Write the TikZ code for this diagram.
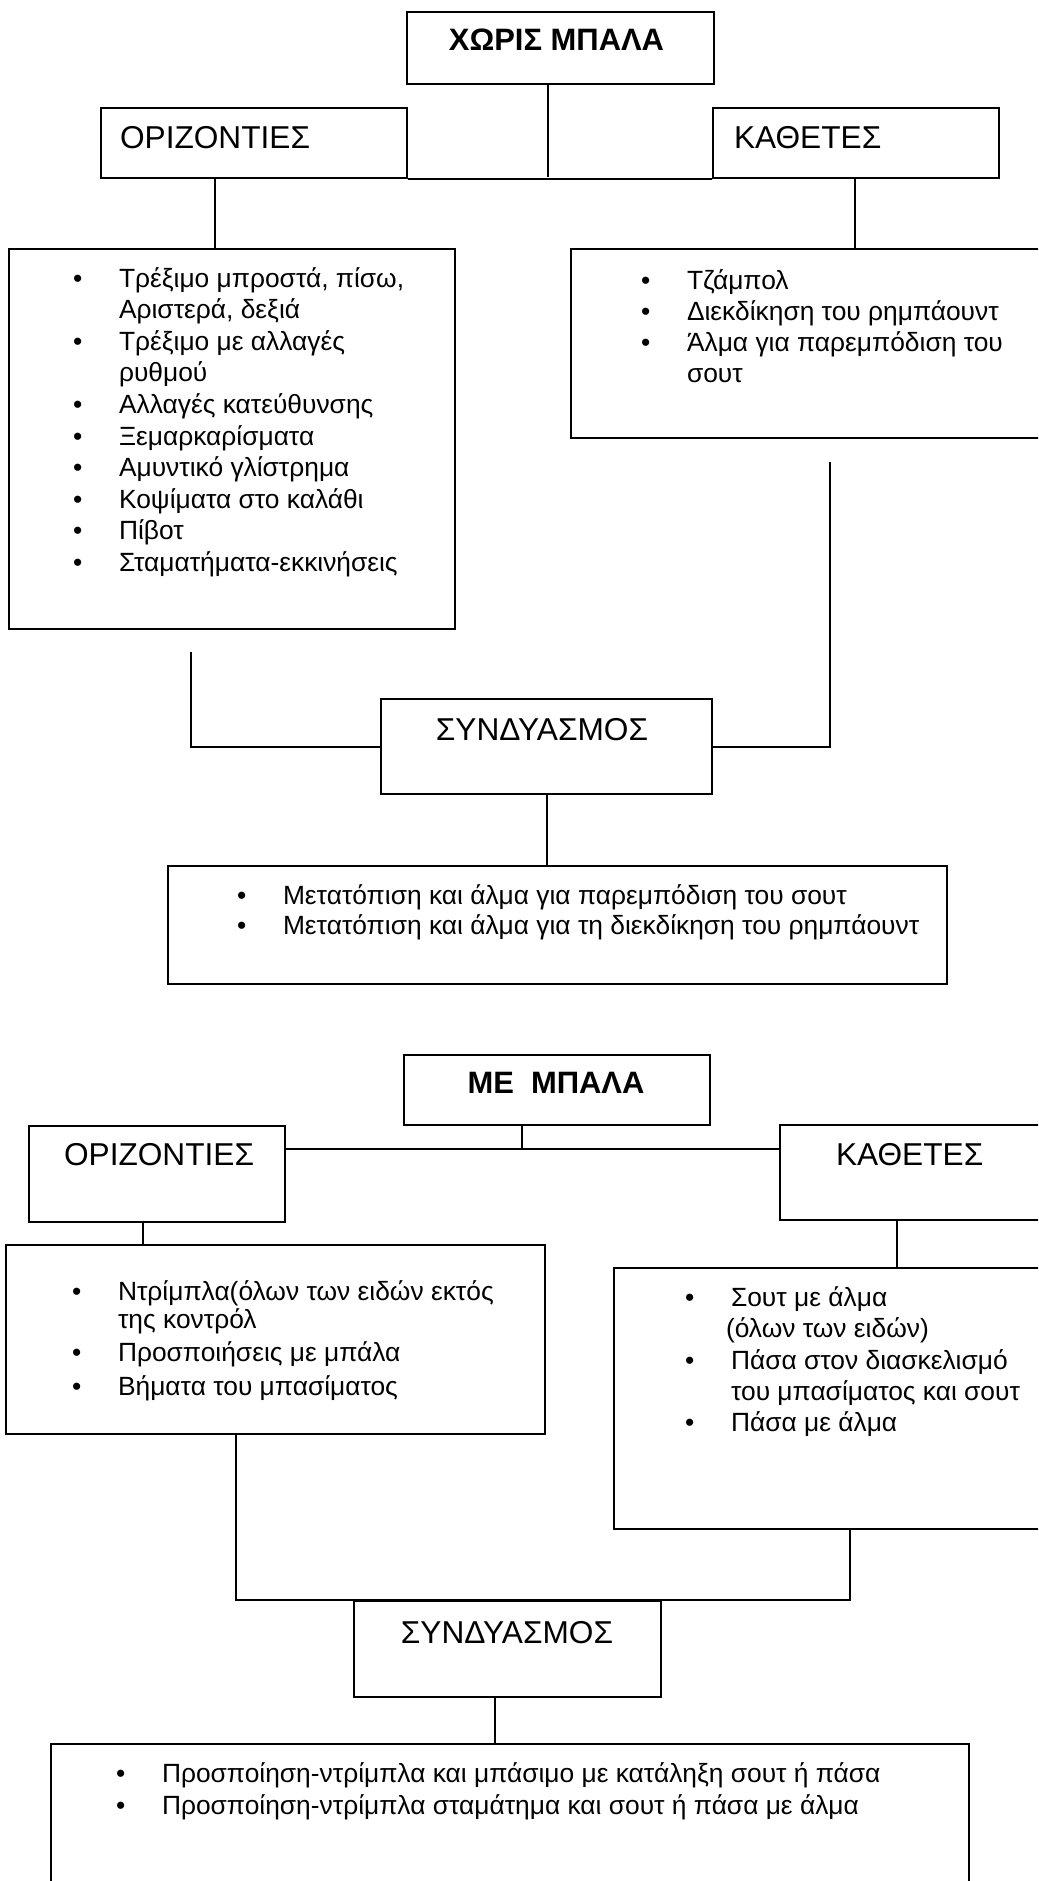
\documentclass[tikz,border=0pt]{standalone}
\usepackage{fontspec}
\setmainfont{Liberation Sans}
\newcommand{\bulletmark}{\llap{\makebox[4.6mm][l]{•}}}
\tikzset{
  box/.style={draw, anchor=north west, inner sep=0pt},
  head/.style={font=\fontsize{9}{11}\selectfont, inner sep=0pt, anchor=west},
  title/.style={font=\fontsize{8.8}{11}\selectfont\bfseries, inner sep=0pt},
  item/.style={font=\fontsize{7.5}{9}\selectfont, inner sep=0pt, anchor=mid west},
}
\begin{document}
\begin{tikzpicture}[line width=0.6pt]
        \useasboundingbox (0,0) rectangle (10.38,-18.81);
        \clip (0,0) rectangle (10.38,-18.81);
        %Χωρίς μπάλα
        \node[box, minimum width=3.07cm, minimum height=0.72cm] (t1) at (4.06,-0.11) {};
        \node[title] (t1txt) at (5.565,-0.40) {ΧΩΡΙΣ ΜΠΑΛΑ};
        \node[box, minimum width=3.06cm, minimum height=0.70cm] (o1) at (1.00,-1.07) {};
        \node[head] (o1txt) at (1.19,-1.38) {ΟΡΙΖΟΝΤΙΕΣ};
        \node[box, minimum width=2.86cm, minimum height=0.70cm] (k1) at (7.12,-1.07) {};
        \node[head] (k1txt) at (7.33,-1.38) {ΚΑΘΕΤΕΣ};
        \coordinate (h1) at (5.48,-1.77);
        \draw (h1 |- t1.south) -- (h1);
        \draw (o1.south east) -- (k1.south west);
        %Λίστες
        \node[box, minimum width=4.46cm, minimum height=3.80cm] (l1) at (0.08,-2.48) {};
        \node[box, minimum width=4.80cm, minimum height=1.89cm] (r1) at (5.70,-2.48) {};
        \draw (2.15,0 |- o1.south) -- (2.15,0 |- l1.north);
        \draw (8.55,0 |- k1.south) -- (8.55,0 |- r1.north);
        \node[item] (l1a) at (1.18,-2.78) {\bulletmark Τρέξιμο μπροστά, πίσω,};
        \node[item] (l1b) at (1.18,-3.09) {Αριστερά, δεξιά};
        \node[item] (l1c) at (1.18,-3.41) {\bulletmark Τρέξιμο με αλλαγές};
        \node[item] (l1d) at (1.18,-3.72) {ρυθμού};
        \node[item] (l1e) at (1.18,-4.04) {\bulletmark Αλλαγές κατεύθυνσης};
        \node[item] (l1f) at (1.18,-4.36) {\bulletmark Ξεμαρκαρίσματα};
        \node[item] (l1g) at (1.18,-4.67) {\bulletmark Αμυντικό γλίστρημα};
        \node[item] (l1h) at (1.18,-4.99) {\bulletmark Κοψίματα στο καλάθι};
        \node[item] (l1i) at (1.18,-5.30) {\bulletmark Πίβοτ};
        \node[item] (l1j) at (1.18,-5.62) {\bulletmark Σταματήματα-εκκινήσεις};
        \node[item] (r1a) at (6.86,-2.80) {\bulletmark Τζάμπολ};
        \node[item] (r1b) at (6.86,-3.11) {\bulletmark Διεκδίκηση του ρημπάουντ};
        \node[item] (r1c) at (6.86,-3.42) {\bulletmark Άλμα για παρεμπόδιση του};
        \node[item] (r1d) at (6.86,-3.73) {σουτ};
        %Συνδυασμός
        \coordinate (c1) at (1.91,-6.52);
        \coordinate (c2) at (8.30,-4.62);
        \node[box, minimum width=3.31cm, minimum height=0.95cm] (s1) at (3.80,-6.98) {};
        \node[head, anchor=center] (s1txt) at (5.42,-7.30) {ΣΥΝΔΥΑΣΜΟΣ};
        \draw (c1) |- (s1.west);
        \draw (c2) |- (s1.east);
        \node[box, minimum width=7.79cm, minimum height=1.18cm] (b1) at (1.67,-8.65) {};
        \draw (s1.south) -- (s1.south |- b1.north);
        \node[item] (b1a) at (2.82,-8.95) {\bulletmark Μετατόπιση και άλμα για παρεμπόδιση του σουτ};
        \node[item] (b1b) at (2.82,-9.25) {\bulletmark Μετατόπιση και άλμα για τη διεκδίκηση του ρημπάουντ};
        %Με μπάλα
        \node[box, minimum width=3.06cm, minimum height=0.70cm] (t2) at (4.03,-10.54) {};
        \node[title] (t2txt) at (5.56,-10.83) {ΜΕ\ \ ΜΠΑΛΑ};
        \node[box, minimum width=2.56cm, minimum height=0.96cm] (o2) at (0.28,-11.25) {};
        \node[head] (o2txt) at (0.63,-11.55) {ΟΡΙΖΟΝΤΙΕΣ};
        \node[box, minimum width=2.70cm, minimum height=0.95cm] (k2) at (7.79,-11.24) {};
        \node[head] (k2txt) at (8.35,-11.55) {ΚΑΘΕΤΕΣ};
        \coordinate (h2) at (5.22,-11.49);
        \draw (o2.east |- h2) -- (k2.west |- h2);
        \draw (h2) -- (h2 |- t2.south);
        %Λίστες
        \node[box, minimum width=5.39cm, minimum height=1.89cm] (l2) at (0.05,-12.44) {};
        \node[box, minimum width=4.40cm, minimum height=2.61cm] (r2) at (6.13,-12.67) {};
        \draw (1.43,0 |- o2.south) -- (1.43,0 |- l2.north);
        \draw (8.97,0 |- k2.south) -- (8.97,0 |- r2.north);
        \node[item] (l2a) at (1.17,-12.91) {\bulletmark Ντρίμπλα(όλων των ειδών εκτός};
        \node[item] (l2b) at (1.17,-13.19) {της κοντρόλ};
        \node[item] (l2c) at (1.17,-13.52) {\bulletmark Προσποιήσεις με μπάλα};
        \node[item] (l2d) at (1.17,-13.86) {\bulletmark Βήματα του μπασίματος};
        \node[item] (r2a) at (7.30,-12.97) {\bulletmark Σουτ με άλμα};
        \node[item] (r2b) at (7.25,-13.28) {(όλων των ειδών)};
        \node[item] (r2c) at (7.30,-13.60) {\bulletmark Πάσα στον διασκελισμό};
        \node[item] (r2d) at (7.30,-13.91) {του μπασίματος και σουτ};
        \node[item] (r2e) at (7.30,-14.22) {\bulletmark Πάσα με άλμα};
        %Συνδυασμός
        \node[box, minimum width=3.07cm, minimum height=0.96cm] (s2) at (3.53,-16.00) {};
        \node[head, anchor=center] (s2txt) at (5.07,-16.33) {ΣΥΝΔΥΑΣΜΟΣ};
        \draw (2.36,0 |- l2.south) |- (8.50,0 |- s2.north) -- (8.50,0 |- r2.south);
        \node[box, minimum width=9.18cm, minimum height=1.60cm] (b2) at (0.50,-17.43) {};
        \draw (4.95,0 |- s2.south) -- (4.95,0 |- b2.north);
        \node[item] (b2a) at (1.61,-17.73) {\bulletmark Προσποίηση-ντρίμπλα και μπάσιμο με κατάληξη σουτ ή πάσα};
        \node[item] (b2b) at (1.61,-18.05) {\bulletmark Προσποίηση-ντρίμπλα σταμάτημα και σουτ ή πάσα με άλμα};
    \end{tikzpicture}
\end{document}
